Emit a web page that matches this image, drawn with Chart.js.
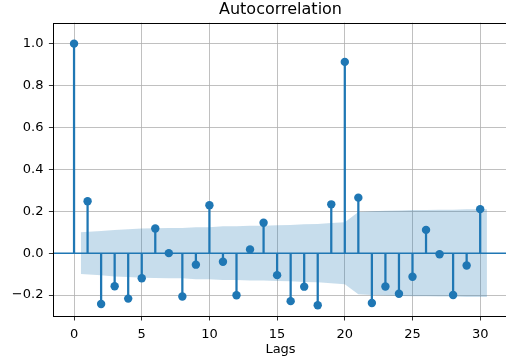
<!DOCTYPE html>
<html>
<head>
<meta charset="utf-8">
<script src="https://cdn.jsdelivr.net/npm/chart.js@4"></script>
<style>
  html, body { margin: 0; padding: 0; background: #fff; overflow: hidden; }
  #wrap { position: relative; width: 561px; height: 362px; }
</style>
</head>
<body>
<div id="wrap"><canvas id="acfChart"></canvas></div>
<script>
const lags = [0,1,2,3,4,5,6,7,8,9,10,11,12,13,14,15,16,17,18,19,20,21,22,23,24,25,26,27,28,29,30];
const acfValues = [1.0, 0.248, -0.243, -0.158, -0.217, -0.120, 0.118, 0.0, -0.207, -0.055, 0.229, -0.041,
  -0.201, 0.018, 0.145, -0.105, -0.229, -0.160, -0.249, 0.233, 0.913, 0.265, -0.238, -0.159,
  -0.194, -0.113, 0.111, -0.005, -0.200, -0.059, 0.210];

// 95% band, first and last points pushed out by half a lag
const bandX = [0.5,2,3,4,5,6,7,8,9,10,11,12,13,14,15,16,17,18,19,20,21,22,23,24,25,26,27,28,29,30.5];
const bandUpper = [0.100, 0.106, 0.111, 0.114, 0.118, 0.119, 0.120, 0.120, 0.124, 0.124, 0.128, 0.128,
  0.131, 0.131, 0.133, 0.134, 0.138, 0.139, 0.144, 0.148, 0.196, 0.200, 0.202, 0.204, 0.206,
  0.206, 0.207, 0.207, 0.209, 0.209];

const xTicks = [0, 5, 10, 15, 20, 25, 30];
const yTicks = [-0.2, 0.0, 0.2, 0.4, 0.6, 0.8, 1.0];
const xRange = [-1.525, 32.025];
const yRange = [-0.3, 1.1];

const blue = "#1f77b4";
const font = { family: "'DejaVu Sans', sans-serif", size: 13 };

const frame = {
  id: "frame",
  afterDraw(chart){
    const { ctx, chartArea: a } = chart;
    ctx.save();
    ctx.strokeStyle = "#000";
    ctx.lineWidth = 1;
    ctx.strokeRect(Math.round(a.left) + 0.5, Math.round(a.top) + 0.5,
      Math.round(a.right - a.left), Math.round(a.bottom - a.top));
    ctx.restore();
  }
};

new Chart(document.getElementById("acfChart"), {
  type: "scatter",
  data: {
    datasets: [
      {
        type: "line",
        data: bandX.map((x, i) => ({ x, y: bandUpper[i] })),
        fill: "+1",
        backgroundColor: "rgba(31,119,180,0.25)",
        borderWidth: 0,
        pointRadius: 0,
        tension: 0,
        order: 5
      },
      {
        type: "line",
        data: bandX.map((x, i) => ({ x, y: -bandUpper[i] })),
        fill: false,
        borderWidth: 0,
        pointRadius: 0,
        tension: 0,
        order: 6
      },
      {
        type: "line",
        data: [{ x: xRange[0], y: 0 }, { x: xRange[1], y: 0 }],
        borderColor: blue,
        borderWidth: 1.5,
        pointRadius: 0,
        fill: false,
        order: 3
      },
      {
        type: "bar",
        data: lags.map((x, i) => ({ x, y: acfValues[i] })),
        backgroundColor: blue,
        barThickness: 1.6,
        grouped: false,
        order: 2
      },
      {
        data: lags.map((x, i) => ({ x, y: acfValues[i] })),
        backgroundColor: blue,
        borderColor: blue,
        borderWidth: 0,
        pointRadius: 4.2,
        pointHoverRadius: 4.2,
        order: 1
      }
    ]
  },
  options: {
    responsive: true,
    maintainAspectRatio: false,
    animation: false,
    events: [],
    layout: { padding: 0 },
    plugins: {
      legend: { display: false },
      tooltip: { enabled: false },
      title: {
        display: true,
        text: "Autocorrelation",
        color: "#000",
        font: { family: font.family, size: 16, weight: "normal" },
        padding: { top: 0, bottom: 3.5 }
      }
    },
    scales: {
      x: {
        type: "linear",
        min: xRange[0],
        max: xRange[1],
        offset: false,
        afterBuildTicks(scale){ scale.ticks = xTicks.map(v => ({ value: v })); },
        afterFit(scale){ scale.height = 46; },
        ticks: { color: "#000", font, padding: 6.5, maxRotation: 0, callback: v => String(v) },
        grid: { color: "#b0b0b0", lineWidth: 0.8, tickColor: "#000", tickLength: 4.5, offset: false },
        border: { display: false },
        title: { display: true, text: "Lags", color: "#000", font, padding: { top: 0, bottom: 5 } }
      },
      y: {
        min: yRange[0],
        max: yRange[1],
        afterBuildTicks(scale){ scale.ticks = yTicks.map(v => ({ value: v })); },
        afterFit(scale){ scale.width = 53.4; },
        ticks: { color: "#000", font, padding: 5.5, callback: v => v.toFixed(1).replace("-", "\u2212") },
        grid: { color: "#b0b0b0", lineWidth: 0.8, tickColor: "#000", tickLength: 4.5 },
        border: { display: false }
      },
      // empty right-hand margin so the title sits centred over the plot
      yRight: {
        position: "right",
        min: yRange[0],
        max: yRange[1],
        afterFit(scale){ scale.width = 53.4; },
        ticks: { display: false },
        grid: { display: false, drawTicks: false },
        border: { display: false }
      }
    }
  },
  plugins: [frame]
});
</script>
</body>
</html>
